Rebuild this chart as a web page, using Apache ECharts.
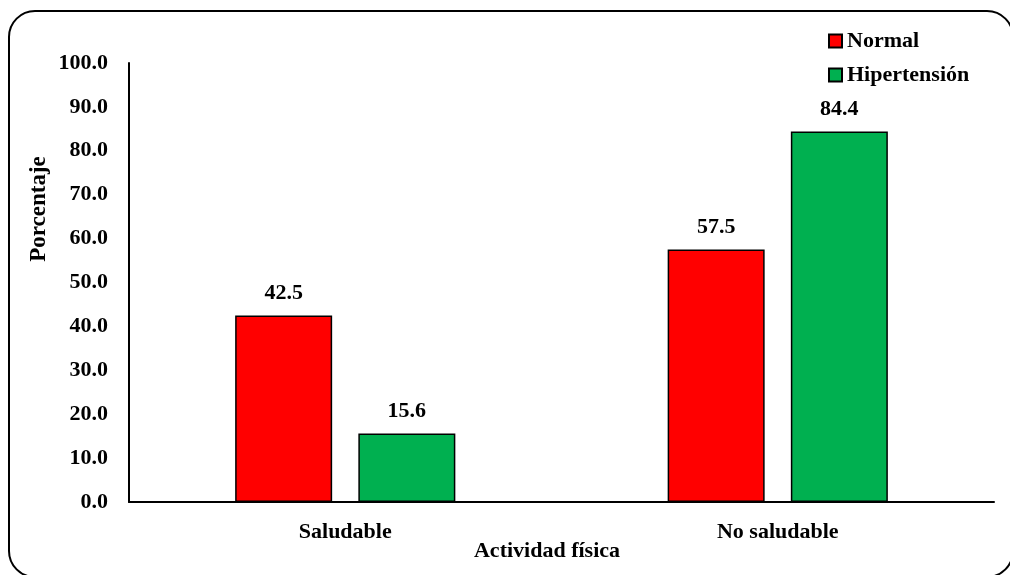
<!DOCTYPE html>
<html>
<head>
<meta charset="utf-8">
<script src="https://cdn.jsdelivr.net/npm/echarts@6/dist/echarts.min.js"></script>
<style>
  html, body { margin: 0; padding: 0; background: #fff; }
  #chart { width: 1010px; height: 575px; }
</style>
</head>
<body>
<div id="chart"></div>
<script>
// Porcentaje de normotensos e hipertensos según actividad física
const categories = ['Saludable', 'No saludable'];
const normalValues = [42.5, 57.5];
const hipertensionValues = [15.6, 84.4];
const seriesNames = ['Normal', 'Hipertensión'];
const yAxisTitle = 'Porcentaje';
const xAxisTitle = 'Actividad física';

const FONT = '"Liberation Serif", "Times New Roman", serif';
const chart = echarts.init(document.getElementById('chart'));

const labelStyle = {
  show: true,
  position: 'top',
  distance: 11,
  color: '#000',
  fontFamily: FONT,
  fontWeight: 'bold',
  fontSize: 22,
  formatter: p => p.value.toFixed(1)
};

chart.setOption({
  backgroundColor: '#fff',
  animation: false,
  textStyle: { fontFamily: FONT },
  grid: { left: 129, right: 16, top: 63, bottom: 73 },
  legend: {
    orient: 'vertical',
    left: 823,
    top: 25,
    itemWidth: 13,
    itemHeight: 13,
    itemGap: 12,
    icon: 'rect',
    textStyle: { fontFamily: FONT, fontWeight: 'bold', fontSize: 22, color: '#000', lineHeight: 21 },
    data: seriesNames
  },
  xAxis: {
    type: 'category',
    data: categories,
    axisLine: { lineStyle: { color: '#000', width: 2 } },
    axisTick: { show: false },
    axisLabel: { color: '#000', fontFamily: FONT, fontWeight: 'bold', fontSize: 22, margin: 19 }
  },
  yAxis: {
    type: 'value',
    min: 0,
    max: 100,
    interval: 10,
    splitLine: { show: false },
    axisLine: { show: true, lineStyle: { color: '#000', width: 2 } },
    axisTick: { show: false },
    axisLabel: {
      color: '#000', fontFamily: FONT, fontWeight: 'bold', fontSize: 22, margin: 21,
      formatter: v => v.toFixed(1)
    }
  },
  series: [
    {
      name: seriesNames[0],
      type: 'bar',
      data: normalValues,
      barWidth: 97,
      barGap: '27%',
      itemStyle: { color: '#FF0000', borderColor: '#000', borderWidth: 1.5 },
      label: labelStyle
    },
    {
      name: seriesNames[1],
      type: 'bar',
      data: hipertensionValues,
      barWidth: 97,
      itemStyle: { color: '#00B050', borderColor: '#000', borderWidth: 1.5 },
      label: labelStyle
    }
  ],
  graphic: [
    {
      type: 'rect',
      shape: { x: 9, y: 11, width: 1004, height: 566, r: 26 },
      style: { fill: null, stroke: '#000', lineWidth: 2 },
      silent: true,
      z: -1
    },
    {
      type: 'text',
      x: 39,
      y: 209,
      rotation: Math.PI / 2,
      style: {
        text: yAxisTitle,
        fill: '#000',
        font: 'bold 23px ' + FONT,
        align: 'center',
        verticalAlign: 'middle'
      }
    },
    {
      type: 'text',
      x: 547,
      y: 551,
      style: {
        text: xAxisTitle,
        fill: '#000',
        font: 'bold 22px ' + FONT,
        align: 'center',
        verticalAlign: 'middle'
      }
    }
  ]
});
</script>
</body>
</html>
